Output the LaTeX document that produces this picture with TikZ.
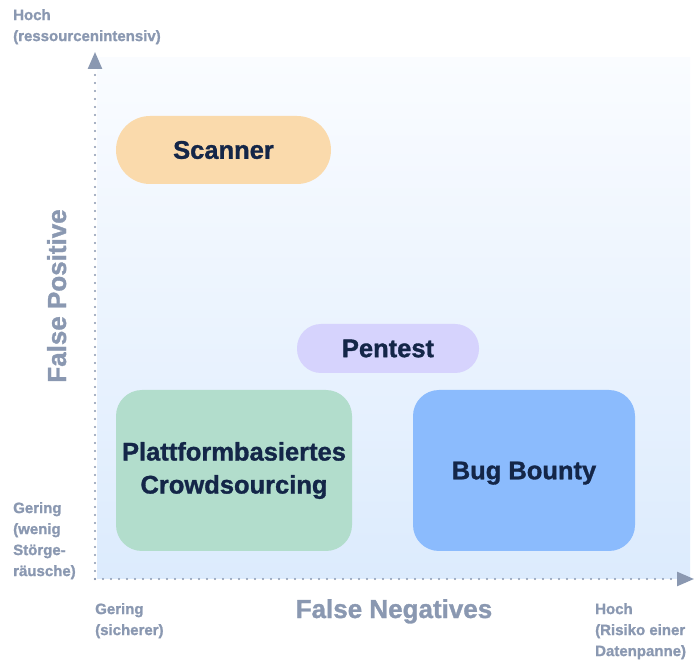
\documentclass[tikz,border=0pt]{standalone}
\usepackage{fontspec}
\setmainfont{Liberation Sans}[BoldFeatures={FakeBold=1.2}]
\usetikzlibrary{arrows.meta}
\definecolor{axisgray}{RGB}{138,152,177}
\definecolor{navy}{RGB}{20,38,72}
\definecolor{peach}{RGB}{250,218,172}
\definecolor{lavender}{RGB}{214,211,253}
\definecolor{mint}{RGB}{178,221,204}
\definecolor{skyblue}{RGB}{139,187,253}
\definecolor{paleblue}{RGB}{220,235,253}
\definecolor{iceblue}{RGB}{250,252,255}

\tikzset{
  bubble/.style={text=navy, inner sep=0pt, align=center,
    font=\bfseries\fontsize{25.5}{33}\selectfont},
  axislabel/.style={text=axisgray, font=\bfseries\fontsize{26}{30}\selectfont},
  ticklabel/.style={text=axisgray, inner sep=0pt, anchor=north west, align=left,
    font=\bfseries\fontsize{15}{21}\selectfont},
  axisline/.style={axisgray, line width=2.4pt, line cap=round,
    dash pattern=on 0pt off 8pt, -{Triangle[length=17pt,width=14pt]}}
}

\begin{document}
\begin{tikzpicture}[x=1pt,y=-1pt]
  \useasboundingbox[fill=white] (0,0) rectangle (697,660);
  % plane
  \shade[top color=iceblue, bottom color=paleblue] (97,58) rectangle (690,578);
  % axes
  \coordinate (origin) at (95,579);
  \coordinate (ytop) at (95,52);
  \coordinate (xend) at (694,579);
  \draw[axisline] (origin) -- (ytop);
  \draw[axisline] (origin) -- (xend);
  \node[axislabel, anchor=base] (fn) at (394,618) {False Negatives};
  \node[axislabel, anchor=base, rotate=90] (fp) at (66,296) {False Positive};
  % ends of the scales
  \node[ticklabel] (yhigh) at (13,9) {Hoch\\(ressourcenintensiv)};
  \node[ticklabel] (ylow) at (13,502) {Gering\\(wenig\\Störge-\\räusche)};
  \node[ticklabel] (xlow) at (95,603) {Gering\\(sicherer)};
  \node[ticklabel] (xhigh) at (595,603) {Hoch\\(Risiko einer\\Datenpanne)};
  % methods
  \node[bubble, fill=peach, rounded corners=34pt, minimum width=215pt,
    minimum height=68pt] (scanner) at (223.5,150) {Scanner};
  \node[bubble, fill=lavender, rounded corners=24pt, minimum width=182pt,
    minimum height=49pt] (pentest) at (388,348.5) {Pentest};
  \node[bubble, fill=mint, rounded corners=26pt, minimum width=236pt,
    minimum height=161pt] (crowd) at (234,470.5) {Plattformbasiertes\\Crowdsourcing};
  \node[bubble, fill=skyblue, rounded corners=26pt, minimum width=222pt,
    minimum height=161pt, text depth=0pt] (bounty) at (524,470.5) {Bug Bounty};
\end{tikzpicture}
\end{document}
